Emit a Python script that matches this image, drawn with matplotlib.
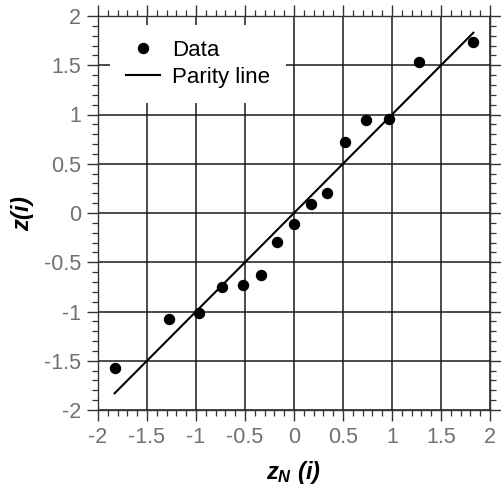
import matplotlib
matplotlib.use("Agg")
import matplotlib.pyplot as plt
from matplotlib.ticker import MultipleLocator

zn = [-1.83, -1.28, -0.97, -0.73, -0.52, -0.34, -0.17, 0.0, 0.17, 0.34, 0.52, 0.73, 0.97, 1.28, 1.83]
zi = [-1.57, -1.08, -1.02, -0.75, -0.73, -0.63, -0.29, -0.11, 0.09, 0.20, 0.72, 0.94, 0.95, 1.53, 1.74]
parity = [min(zn), max(zn)]
ticks = [-2, -1.5, -1, -0.5, 0, 0.5, 1, 1.5, 2]
tick_labels = ["-2", "-1.5", "-1", "-0.5", "0", "0.5", "1", "1.5", "2"]

plt.rcParams['font.family'] = ['Liberation Sans', 'DejaVu Sans']
plt.rcParams['mathtext.fontset'] = 'custom'
plt.rcParams['mathtext.it'] = 'Liberation Sans:bold:italic'
plt.rcParams['mathtext.rm'] = 'Liberation Sans:bold:italic'

fig = plt.figure(figsize=(5.02, 4.88), dpi=100)
ax = fig.add_axes([98/502, 1-410/488, 392/502, 394/488])

ax.plot(zn, zi, 'o', color='black', markersize=7.2, label='Data', zorder=3)
ax.plot(parity, parity, '-', color='black', linewidth=1.5, label='Parity line', zorder=3)

ax.set_xlim(-2, 2)
ax.set_ylim(-2, 2)
ax.set_xticks(ticks)
ax.set_xticklabels(tick_labels)
ax.set_yticks(ticks)
ax.set_yticklabels(tick_labels)
ax.xaxis.set_minor_locator(MultipleLocator(0.1))
ax.yaxis.set_minor_locator(MultipleLocator(0.1))
ax.grid(True, which='major', color='#1a1a1a', linewidth=1.1)
ax.set_axisbelow(True)

ax.tick_params(which='both', direction='out', top=True, right=True,
               labeltop=False, labelright=False, color='#333333')
ax.tick_params(which='major', length=8, width=1.0, labelsize=15.5,
               labelcolor='#707070', pad=4)
ax.tick_params(which='minor', length=4.5, width=0.9)
for s in ax.spines.values():
    s.set_color('#333333')
    s.set_linewidth(1.0)

ax.set_xlabel(r'$z_N\ (i)$', fontsize=17, labelpad=8)
ax.set_ylabel(r'$z(i)$', fontsize=17, labelpad=6)

leg = ax.legend(loc='upper left', bbox_to_anchor=(0.031, 0.978), fontsize=16,
                frameon=True, fancybox=False, edgecolor='none', facecolor='white',
                framealpha=1, handlelength=1.55, handletextpad=0.55,
                borderpad=0.7, labelspacing=0.25, borderaxespad=0)
leg.set_zorder(5)

fig.savefig('out.png', dpi=100)
